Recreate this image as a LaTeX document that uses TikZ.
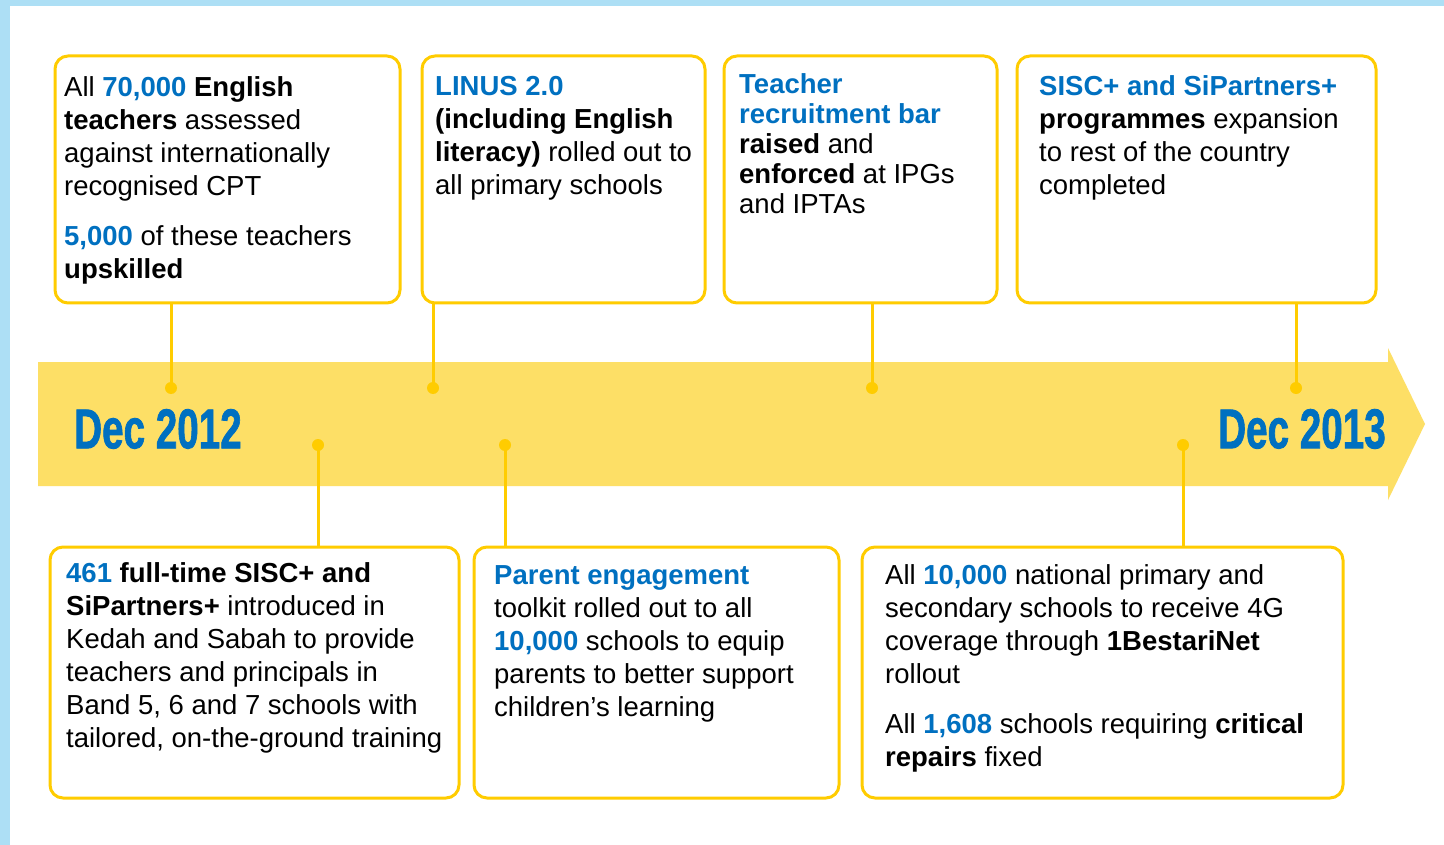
\documentclass[tikz,border=0pt]{standalone}
\usepackage{fontspec}
\setmainfont{Liberation Sans}
\newfontfamily\datefont{Liberation Sans Bold}[FakeBold=1.6]
\usepackage{graphicx}
\usetikzlibrary{positioning,calc}
\definecolor{edgeyellow}{HTML}{FFCC00}
\definecolor{bandyellow}{HTML}{FDDF66}
\definecolor{keyblue}{HTML}{0070C0}
\definecolor{skyblue}{HTML}{ADDFF5}
\newcommand{\kb}[1]{\textcolor{keyblue}{\textbf{#1}}}
\newcommand{\boxlines}[2][33]{\parbox[t]{460pt}{\raggedright\fontsize{27.5}{#1}\selectfont #2}}
\newcommand{\datelabel}[1]{\scalebox{0.69}[1]{\fontsize{56}{56}\datefont #1}}
\tikzset{
  panel/.style={draw=edgeyellow,line width=3pt,rounded corners=13pt,fill=white,anchor=north west,inner sep=0pt},
  blurb/.style={anchor=base west,inner sep=0pt},
  stem/.style={draw=edgeyellow,line width=3pt},
  pin/.style={circle,fill=edgeyellow,minimum size=12pt,inner sep=0pt},
  datemark/.style={text=keyblue,inner sep=0pt}
}

\begin{document}
\begin{tikzpicture}[x=1pt,y=-1pt]
\useasboundingbox (0,0) rectangle (1444,845);
\fill[white] (0,0) rectangle (1444,845);
\fill[skyblue] (0,0) rectangle (1444,6);
\fill[skyblue] (0,0) rectangle (10,845);
\fill[bandyellow] (38,362) -- (1388,362) -- (1388,348) -- (1425,424) -- (1388,500) -- (1388,486) -- (38,486) -- cycle;
\node[datemark] (start) at (158,429) {\datelabel{Dec 2012}};
\node[datemark] (finish) at (1302,429) {\datelabel{Dec 2013}};
\node[panel,minimum width=345pt,minimum height=247pt] (b1) at (53.5,54.5) {};
\node[panel,minimum width=283pt,minimum height=247pt] (b2) at (420.5,54.5) {};
\node[panel,minimum width=273pt,minimum height=247pt] (b3) at (722.5,54.5) {};
\node[panel,minimum width=359pt,minimum height=247pt] (b4) at (1015.5,54.5) {};
\node[panel,minimum width=409pt,minimum height=251pt] (b5) at (48.5,545.5) {};
\node[panel,minimum width=365pt,minimum height=251pt] (b6) at (472.5,545.5) {};
\node[panel,minimum width=481pt,minimum height=251pt] (b7) at (860.5,545.5) {};
\node[pin] (p1) at (171,388) {};
\node[pin] (p2) at (433,388) {};
\node[pin] (p3) at (872,388) {};
\node[pin] (p4) at (1296,388) {};
\node[pin] (p5) at (318,445) {};
\node[pin] (p6) at (505,445) {};
\node[pin] (p7) at (1183,445) {};
\foreach \k in {1,2,3,4}
  \draw[stem] (p\k |- b\k.south) -- (p\k.center);
\foreach \k in {5,6,7}
  \draw[stem] (p\k.center) -- (p\k |- b\k.north);
\node[blurb] (t1) at (64,97) {\boxlines{All \kb{70,000} \textbf{English}\\
  \textbf{teachers} assessed\\ against internationally\\ recognised CPT\\[17pt]
  \kb{5,000} of these teachers\\ \textbf{upskilled}}};
\node[blurb] (t2) at (435,96) {\boxlines{\kb{LINUS 2.0}\\ \textbf{(including English}\\
  \textbf{literacy)} rolled out to\\ all primary schools}};
\node[blurb] (t3) at (739,94) {\boxlines[30]{\kb{Teacher}\\ \kb{recruitment bar}\\
  \textbf{raised} and\\ \textbf{enforced} at IPGs\\ and IPTAs}};
\node[blurb] (t4) at (1039,96) {\boxlines{\kb{SISC+ and SiPartners+}\\
  \textbf{programmes} expansion\\ to rest of the country\\ completed}};
\node[blurb] (t5) at (66,582) {\boxlines{\kb{461} \textbf{full-time SISC+ and}\\
  \textbf{SiPartners+} introduced in\\ Kedah and Sabah to provide\\
  teachers and principals in\\ Band 5, 6 and 7 schools with\\ tailored, on-the-ground training}};
\node[blurb] (t6) at (494,584) {\boxlines{\kb{Parent engagement}\\ toolkit rolled out to all\\
  \kb{10,000} schools to equip\\ parents to better support\\ children’s learning}};
\node[blurb] (t7) at (885,584) {\boxlines{All \kb{10,000} national primary and\\
  secondary schools to receive 4G\\ coverage through \textbf{1BestariNet}\\ rollout\\[17pt]
  All \kb{1,608} schools requiring \textbf{critical}\\ \textbf{repairs} fixed}};
\end{tikzpicture}
\end{document}
